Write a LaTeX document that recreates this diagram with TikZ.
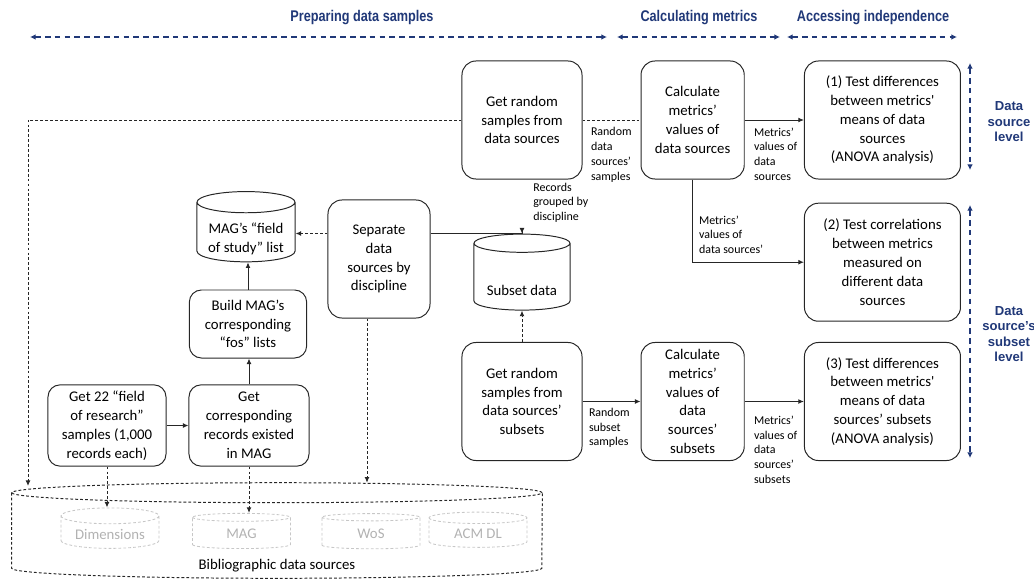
\documentclass[tikz,border=0pt]{standalone}
\usepackage{fontspec}
\setmainfont{Carlito}
\newfontfamily\hdrfont[FakeStretch=0.82]{Liberation Sans}
\newfontfamily\lvlfont{Liberation Sans}
\usetikzlibrary{shapes.geometric, arrows.meta, positioning}
\definecolor{navy}{RGB}{32,56,120}

\begin{document}
\begin{tikzpicture}[x=0.025cm, y=-0.025cm,
  box/.style={draw=black!85, line width=0.7pt, rounded corners=3.5mm, align=center,
              font=\fontsize{10.5}{13.4}\selectfont, inner sep=2pt,
              minimum width=3cm, minimum height=2.95cm},
  sbox/.style={box, rounded corners=3mm, minimum height=2.03cm},
  db/.style={cylinder, shape border rotate=90, draw=black!85, line width=0.7pt,
             align=center, font=\fontsize{10.5}{13.4}\selectfont, inner sep=1pt},
  src/.style={cylinder, shape border rotate=90, aspect=0.2, draw=black!22,
              line width=0.6pt, dash pattern=on 2pt off 1.5pt, text=black!30,
              font=\fontsize{10.5}{13}\selectfont,
              minimum width=2.45cm, minimum height=0.88cm},
  lbl/.style={inner sep=0pt, align=left, font=\fontsize{8.5}{10.5}\selectfont},
  arr/.style={-{Latex[length=4pt,width=3.5pt]}, line width=0.7pt, draw=black!85},
  dotline/.style={line width=0.7pt, draw=black!85, dash pattern=on 2pt off 1.5pt},
  dotarr/.style={dotline, -{Latex[length=4pt,width=3.5pt]}},
  phase/.style={{Latex[length=4pt,width=4pt]}-{Latex[length=4pt,width=4pt]},
                navy, line width=1.1pt, dash pattern=on 4pt off 3pt},
  hdr/.style={text=navy, font=\hdrfont\bfseries\fontsize{11}{13}\selectfont},
  lvl/.style={text=navy, align=center, font=\lvlfont\bfseries\fontsize{9.3}{11}\selectfont}]

  \useasboundingbox (0,0) rectangle (1034,586);

  % phases along the top
  \node[hdr] (hprep) at (362,18) {Preparing data samples};
  \node[hdr] (hcalc) at (699,18) {Calculating metrics};
  \node[hdr] (hacc)  at (873,18) {Accessing independence};
  \foreach \a/\b in {30/607, 617/780, 787/957}
    \draw[phase] (\a,37) -- (\b,37);

  % data source level
  \node[box] (gr1) at (522,120) {Get random\\samples from\\data sources};
  \node[box, minimum width=2.58cm, right=1.45cm of gr1] (cm1)
       {Calculate\\metrics’\\values of\\data sources};
  \node[box, minimum width=3.9cm, right=1.48cm of cm1] (t1)
       {(1) Test differences\\between metrics\textquotesingle\\means of data\\sources\\(ANOVA analysis)};
  \node[box, minimum width=3.9cm, below=0.58cm of t1] (t2)
       {(2) Test correlations\\between metrics\\measured on\\different data\\sources};

  % data source's subset level
  \node[box] (gr2) at (522,401.5) {Get random\\samples from\\data sources’\\subsets};
  \node[box, minimum width=2.58cm, right=1.45cm of gr2] (cm2)
       {Calculate\\metrics’\\values of\\data\\sources’\\subsets};
  \node[box, minimum width=3.9cm, right=1.48cm of cm2] (t3)
       {(3) Test differences\\between metrics\textquotesingle\\means of data\\sources’ subsets\\(ANOVA analysis)};

  % preparing the samples
  \node[box, minimum width=2.55cm] (sep) at (379,259) {Separate\\data\\sources by\\discipline};
  \node[db, aspect=0.25, minimum width=2.4cm, minimum height=1.9cm] (sub) at (522,278)
       {\raisebox{-3mm}[\height][\depth]{Subset data}};
  \node[db, aspect=0.27, minimum width=2.45cm, minimum height=1.43cm] (fos) at (246,233.5)
       {\raisebox{-1.5mm}[\height][\depth]{\begin{tabular}{@{}c@{}}MAG’s ``field\\of study'' list\end{tabular}}};
  \node[sbox, minimum width=2.93cm, minimum height=1.7cm] (bld) at (248,324)
       {Build MAG’s\\corresponding\\``fos'' lists};
  \node[sbox] (gcr) at (249,425.5) {Get\\corresponding\\records existed\\in MAG};
  \node[sbox, minimum width=2.95cm] (g22) at (107,425.5)
       {Get 22 ``field\\of research''\\samples (1,000\\records each)};

  % bibliographic data sources
  \node[minimum width=13.25cm, minimum height=2.375cm,
        label={[anchor=south, inner sep=0pt, yshift=1.5mm, font=\fontsize{10.5}{13}\selectfont]south:Bibliographic data sources}]
       (bib) at (277,530.5) {};
  \draw[dotline] ([yshift=-2.5mm]bib.north) ellipse [x radius=6.625cm, y radius=2.5mm];
  \draw[dotline] ([yshift=-2.5mm]bib.north west) -- ([yshift=2.5mm]bib.south west)
       arc[start angle=180, end angle=360, x radius=6.625cm, y radius=2.5mm]
       -- ([yshift=-2.5mm]bib.north east);
  \node[src] (dim) at (110,534) {Dimensions};
  \node[src] (mag) at (241.5,534) {MAG};
  \node[src] (wos) at (371,534) {WoS};
  \node[src] (acm) at (478,534) {ACM DL};

  % levels on the right
  \draw[phase] (970,63) -- (970,170);
  \draw[phase] (970,205) -- (970,458);
  \node[lvl] (lvl1) at (1009,122) {Data\\source\\level};
  \node[lvl] (lvl2) at (1009,334) {Data\\source’s\\subset\\level};

  % connectors
  \coordinate (inl) at (28,486);
  \draw[dotarr] (gr1.west) -| (inl);
  \draw[dotline] (gr1.east) -- node[lbl, pos=0, anchor=north west, xshift=2mm, yshift=-1.8mm]
       {Random\\data\\sources’\\samples} (gr1.east -| cm1.west);
  \draw[arr] (cm1.east) -- node[lbl, pos=0, anchor=north west, xshift=2.2mm, yshift=-1.8mm]
       {Metrics’\\values of\\data\\sources} (cm1.east -| t1.west);
  \draw[arr] (cm1.south) |- node[lbl, pos=0.5, anchor=south west, xshift=1.5mm, yshift=2mm]
       {Metrics’\\values of\\data sources’} (t2.west);
  \draw[arr] (sep.east |- fos.east) -| node[lbl, pos=0.5, anchor=south west, xshift=2.7mm, yshift=2.6mm]
       {Records\\grouped by\\discipline} (sub.north);
  \draw[dotarr] (sep.west |- fos.east) -- (fos.east);
  \draw[arr] (bld) -- (bld |- fos.south);
  \draw[arr] (gcr) -- (gcr |- bld.south);
  \draw[arr] (g22) -- (gcr);
  \draw[dotarr] (g22.south) -- (g22.south |- dim.north);
  \draw[dotarr] (gcr.south) -- (gcr.south |- mag.north);
  \draw[dotarr] ([xshift=-3mm]sep.south) -- ([xshift=-3mm]sep.south |- bib.north);
  \draw[dotarr] (gr2) -- (sub);
  \draw[arr] (gr2) -- node[lbl, pos=0, anchor=north west, xshift=1.5mm, yshift=-1.5mm]
       {Random\\subset\\samples} (cm2);
  \draw[arr] (cm2) -- node[lbl, pos=0, anchor=north west, xshift=2.2mm, yshift=-3.5mm]
       {Metrics’\\values of\\data\\sources’\\subsets} (t3);
\end{tikzpicture}
\end{document}
